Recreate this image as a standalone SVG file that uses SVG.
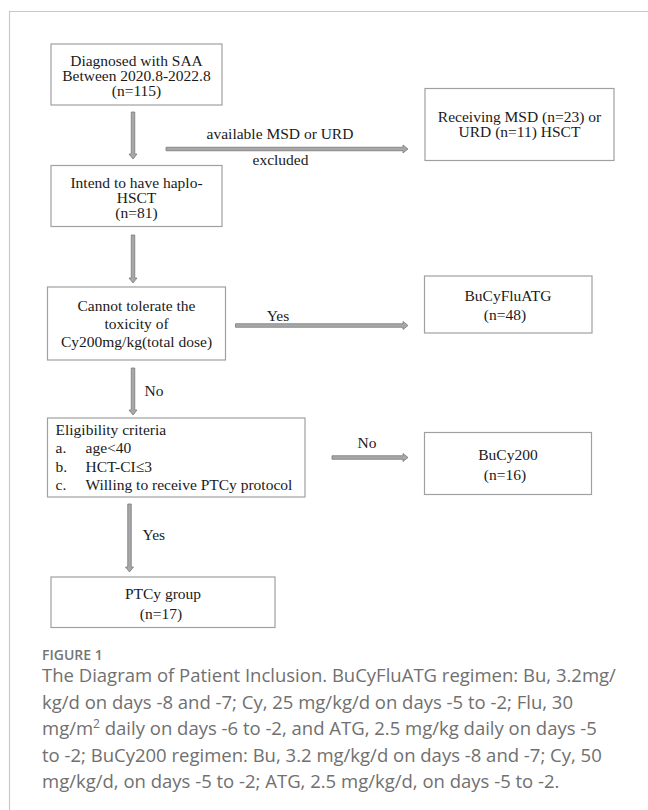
<svg xmlns="http://www.w3.org/2000/svg" width="648" height="810" viewBox="0 0 648 810">
<style>
.box{fill:#fff;stroke:#a0a0a0;stroke-width:1.2}
.t{font-family:"Liberation Serif","Times New Roman",serif;font-size:15.5px;fill:#1a1a1a}
.c{text-anchor:middle}
.arr{fill:#a8a8a8;stroke:#7a7a7a;stroke-width:0.8;stroke-linejoin:miter}
.cap{font-family:"Open Sans","Noto Sans",sans-serif;font-size:18.5px;fill:#707070}
.fig{font-family:"Open Sans","Noto Sans",sans-serif;font-size:14px;font-weight:600;fill:#757575}
</style>
<rect width="648" height="810" fill="#fff"/>
<path d="M9.5 810 V11.5 H648" fill="none" stroke="#c8c8c8" stroke-width="1.2"/>

<g id="n1">
<rect class="box" x="51" y="44" width="171" height="61"/>
<text class="t c" x="136.5" y="65.5">Diagnosed with SAA</text>
<text class="t c" x="136.5" y="80.5">Between 2020.8-2022.8</text>
<text class="t c" x="136.5" y="95.5">(n=115)</text>
</g>
<g id="n2">
<rect class="box" x="425" y="88.5" width="189" height="72"/>
<text class="t c" x="519.5" y="121.5">Receiving MSD (n=23) or</text>
<text class="t c" x="519.5" y="137">URD (n=11) HSCT</text>
</g>
<g id="n3">
<rect class="box" x="51" y="165.5" width="171" height="61"/>
<text class="t c" x="136.5" y="187.5">Intend to have haplo-</text>
<text class="t c" x="136.5" y="202.5">HSCT</text>
<text class="t c" x="136.5" y="218">(n=81)</text>
</g>
<g id="n4">
<rect class="box" x="47.5" y="287" width="178" height="73"/>
<text class="t c" x="136.5" y="310.5">Cannot tolerate the</text>
<text class="t c" x="136.5" y="328.5">toxicity of</text>
<text class="t c" x="136.5" y="346.5">Cy200mg/kg(total dose)</text>
</g>
<g id="n5">
<rect class="box" x="424.5" y="276" width="167.5" height="57"/>
<text class="t c" x="508" y="300.5">BuCyFluATG</text>
<text class="t c" x="505" y="319.5">(n=48)</text>
</g>
<g id="n6">
<rect class="box" x="47.5" y="418" width="257.5" height="79"/>
<text class="t" x="55.5" y="435">Eligibility criteria</text>
<text class="t" x="55.5" y="453">a.</text><text class="t" x="85.5" y="453">age&lt;40</text>
<text class="t" x="55.5" y="471.5">b.</text><text class="t" x="85.5" y="471.5">HCT-CI≤3</text>
<text class="t" x="55.5" y="490">c.</text><text class="t" x="85.5" y="490">Willing to receive PTCy protocol</text>
</g>
<g id="n7">
<rect class="box" x="424.5" y="432.5" width="167" height="62"/>
<text class="t c" x="508" y="460">BuCy200</text>
<text class="t c" x="505" y="479.5">(n=16)</text>
</g>
<g id="n8">
<rect class="box" x="51" y="577" width="224" height="50.5"/>
<text class="t c" x="163" y="598.5">PTCy group</text>
<text class="t c" x="161" y="618.5">(n=17)</text>
</g>

<g id="connectors">
<path class="arr" d="M131.25 112 H134.75 V154 H137 L133 159 L129 154 H131.25 Z"/>
<path class="arr" d="M166 147.25 V150.75 H403 V153 L408 149 L403 145 V147.25 Z"/>
<text class="t c" x="280" y="139">available MSD or URD</text>
<text class="t c" x="280.5" y="164.5">excluded</text>
<path class="arr" d="M131.25 235 H134.75 V278 H137 L133 283 L129 278 H131.25 Z"/>
<path class="arr" d="M235.5 323.75 V327.25 H403 V329.5 L408 325.5 L403 321.5 V323.75 Z"/>
<text class="t c" x="278" y="320.5">Yes</text>
<path class="arr" d="M131.25 368 H134.75 V410 H137 L133 415 L129 410 H131.25 Z"/>
<text class="t" x="144.5" y="396">No</text>
<path class="arr" d="M332 455.75 V459.25 H403 V461.5 L408 457.5 L403 453.5 V455.75 Z"/>
<text class="t c" x="367" y="447.5">No</text>
<path class="arr" d="M127.75 504 H131.25 V567 H133.5 L129.5 572 L125.5 567 H127.75 Z"/>
<text class="t" x="142.5" y="540">Yes</text>
</g>

<g id="caption">
<text class="fig" x="42" y="660">FIGURE 1</text>
<text class="cap" x="42" y="682">The Diagram of Patient Inclusion. BuCyFluATG regimen: Bu, 3.2mg/</text>
<text class="cap" x="42" y="708.5">kg/d on days -8 and -7; Cy, 25 mg/kg/d on days -5 to -2; Flu, 30</text>
<text class="cap" x="42" y="735">mg/m<tspan font-size="12" dy="-7">2</tspan><tspan dy="7"> daily on days -6 to -2, and ATG, 2.5 mg/kg daily on days -5</tspan></text>
<text class="cap" x="42" y="761.5">to -2; BuCy200 regimen: Bu, 3.2 mg/kg/d on days -8 and -7; Cy, 50</text>
<text class="cap" x="42" y="788">mg/kg/d, on days -5 to -2; ATG, 2.5 mg/kg/d, on days -5 to -2.</text>
</g>
</svg>
